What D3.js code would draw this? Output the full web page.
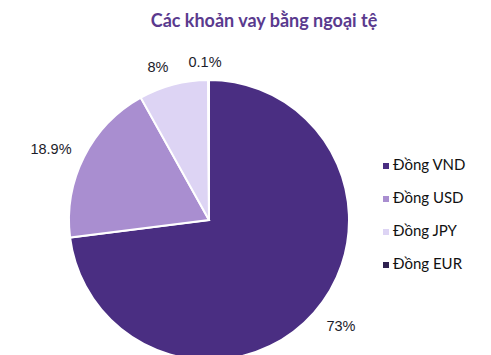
<!DOCTYPE html>
<html>
<head>
<meta charset="utf-8">
<script src="https://cdn.jsdelivr.net/npm/d3@7"></script>
<style>
  body { margin: 0; background: #fff; }
  svg { display: block; }
</style>
</head>
<body>
<svg></svg>
<script>
// data
const categories = ["Đồng VND", "Đồng USD", "Đồng JPY", "Đồng EUR"];
const values = [73, 18.9, 8, 0.1];
const labels = ["73%", "18.9%", "8%", "0.1%"];
const colors = ["#4a2e82", "#a98ed0", "#ddd4f4", "#2f2150"];

const width = 491, height = 355;
const cx = 209, cy = 220, radius = 140;

const svg = d3.select("svg")
    .attr("width", width)
    .attr("height", height);

svg.append("text")
    .attr("x", 264)
    .attr("y", 27)
    .attr("text-anchor", "middle")
    .attr("font-family", "Lato, 'Noto Sans', sans-serif")
    .attr("font-weight", "bold")
    .attr("font-size", 18)
    .attr("fill", "#5a3a8e")
    .text("Các khoản vay bằng ngoại tệ");

const pie = d3.pie().sort(null).value(d => d);
const arcs = pie(values);
const arc = d3.arc().innerRadius(0).outerRadius(radius);

const g = svg.append("g").attr("transform", `translate(${cx},${cy})`);

g.selectAll("path")
    .data(arcs)
    .join("path")
    .attr("d", arc)
    .attr("fill", (d, i) => colors[i])
    .attr("stroke", "#fff")
    .attr("stroke-width", 2);

// label positions (outside the pie)
const labelPos = [[341, 327], [51, 150], [158, 68], [205, 63]];

svg.append("g")
    .selectAll("text")
    .data(arcs)
    .join("text")
    .attr("x", (d, i) => labelPos[i][0])
    .attr("y", (d, i) => labelPos[i][1])
    .attr("text-anchor", "middle")
    .attr("dominant-baseline", "middle")
    .attr("font-family", "'Liberation Sans', Arial, sans-serif")
    .attr("font-size", 14.5)
    .attr("fill", "#1c1c2a")
    .text((d, i) => labels[i]);

// legend
const legend = svg.append("g")
    .selectAll("g")
    .data(categories)
    .join("g")
    .attr("transform", (d, i) => `translate(383,${166 + i * 33})`);

legend.append("rect")
    .attr("x", 0)
    .attr("y", -3)
    .attr("width", 6)
    .attr("height", 6)
    .attr("fill", (d, i) => colors[i]);

legend.append("text")
    .attr("x", 10)
    .attr("y", 0)
    .attr("dominant-baseline", "middle")
    .attr("font-family", "Lato, 'Noto Sans', sans-serif")
    .attr("font-size", 15)
    .attr("fill", "#111")
    .text(d => d);
</script>
</body>
</html>
